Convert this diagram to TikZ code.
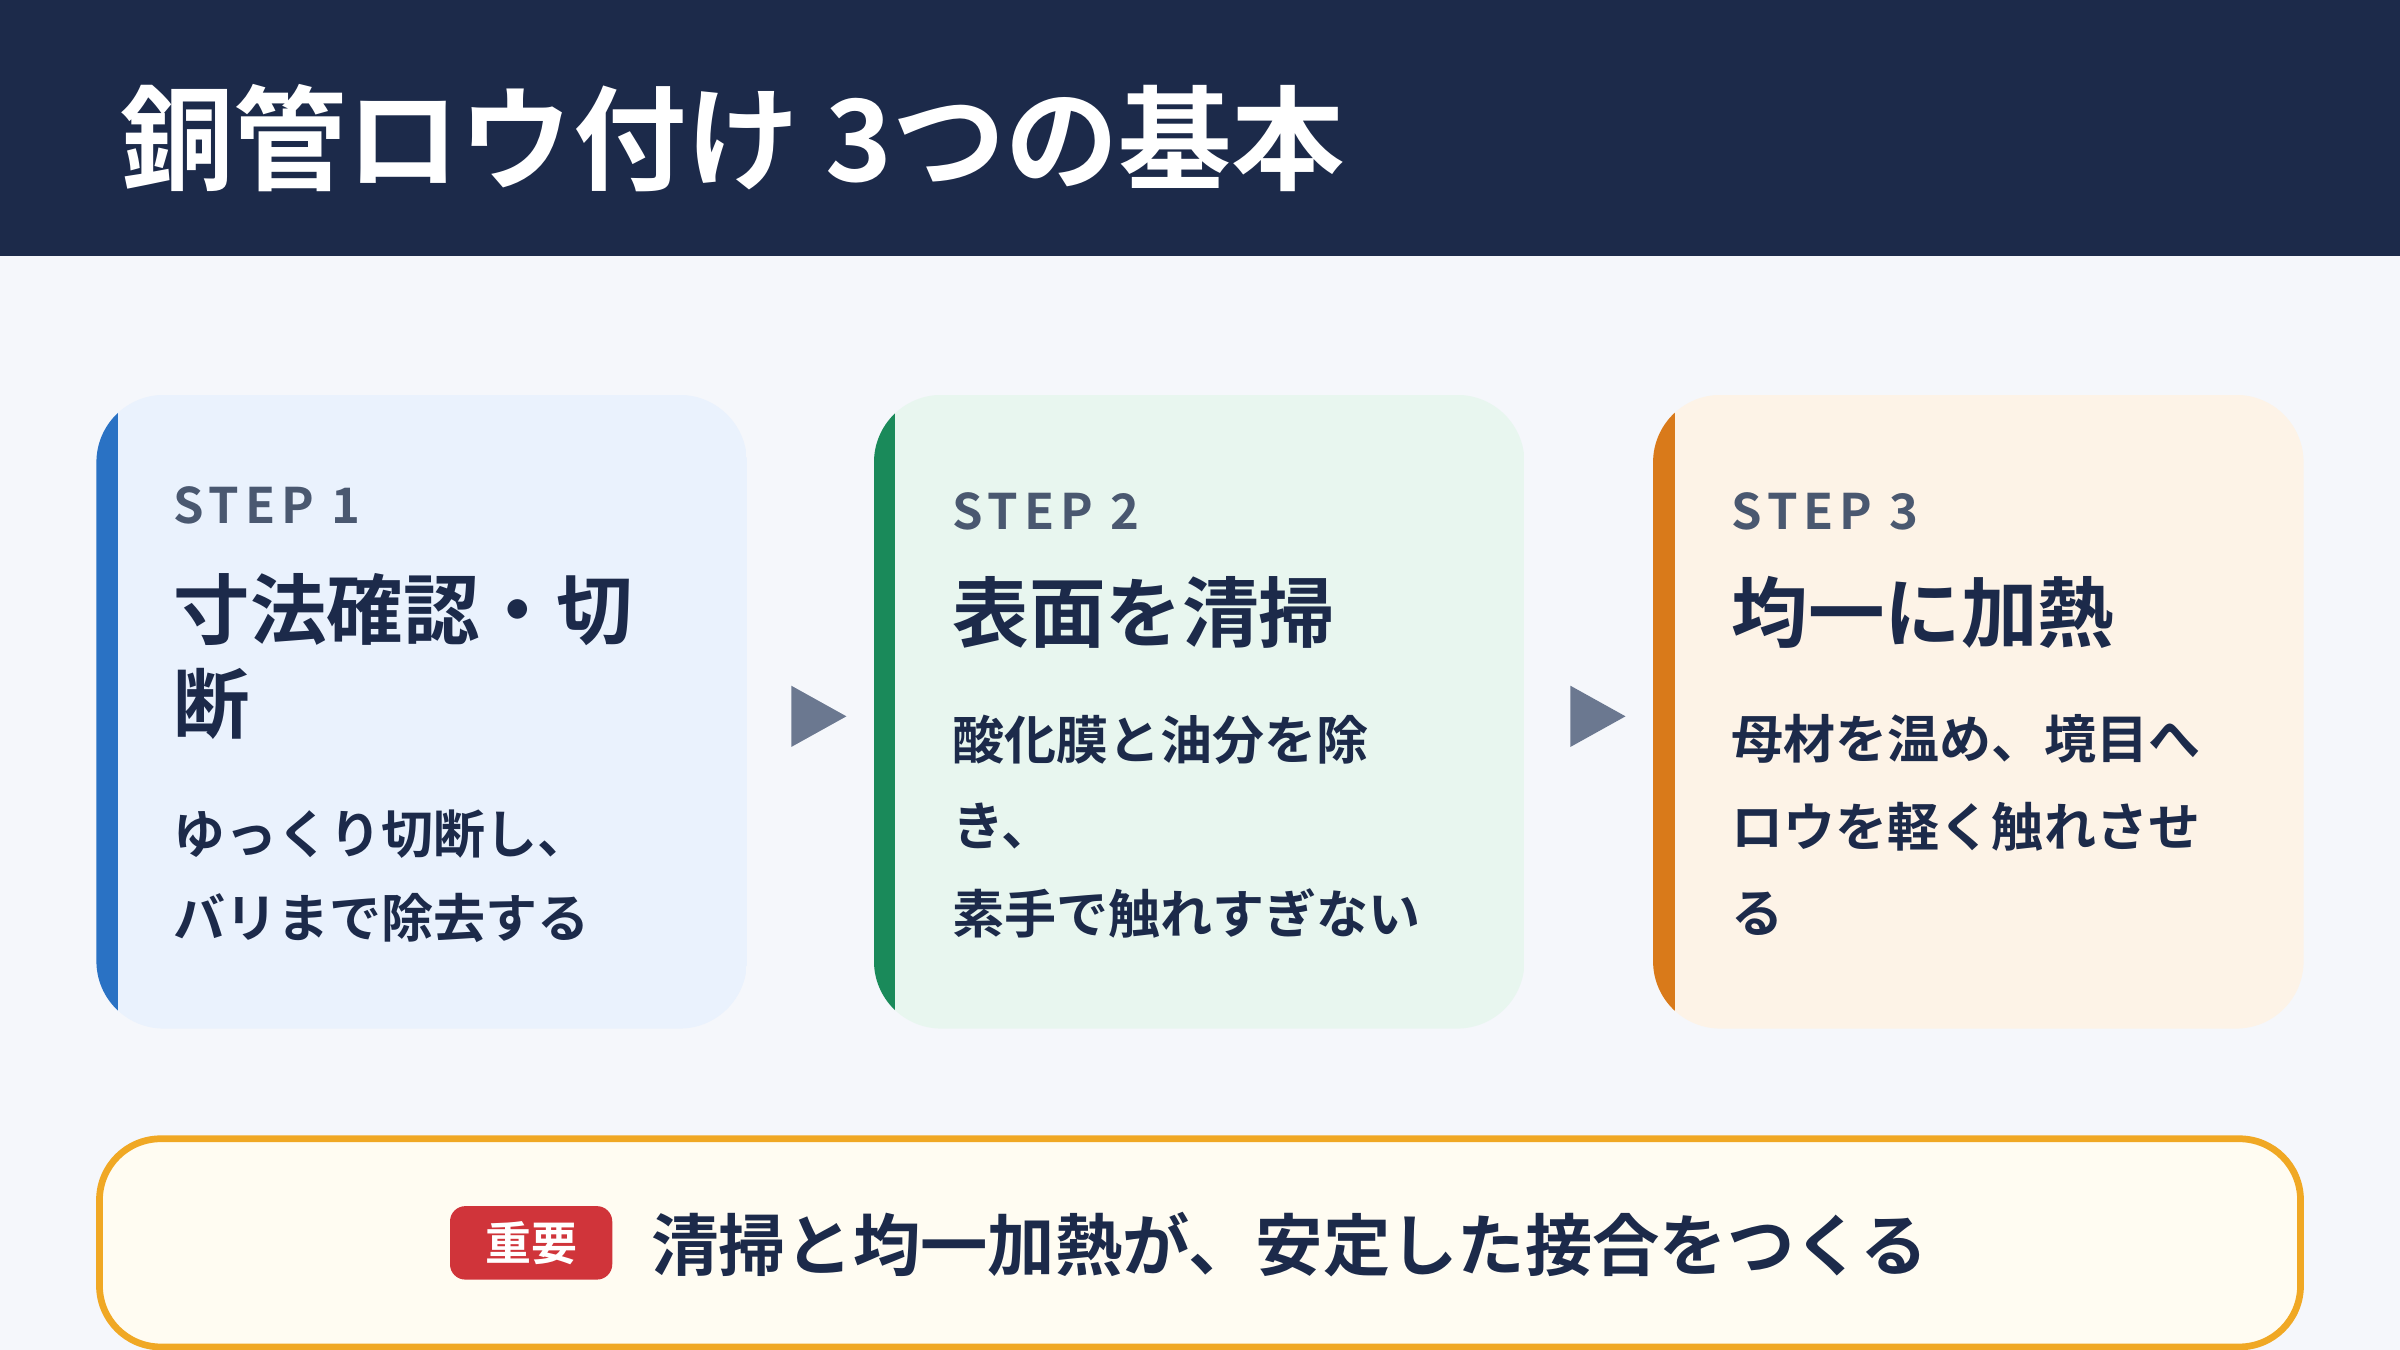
\documentclass[tikz,border=0pt]{standalone}
\usepackage{fontspec}
\setmainfont{Noto Sans CJK JP}[BoldFont={* Bold}]
\newfontfamily\stepfont{Noto Sans CJK JP}[BoldFont={* Bold},LetterSpace=12]
\definecolor{navy}{HTML}{1C2A4A}
\definecolor{bg}{HTML}{F5F7FB}
\definecolor{cblue}{HTML}{2A72C4}
\definecolor{cgreen}{HTML}{1A8A5A}
\definecolor{corange}{HTML}{D97A1A}
\definecolor{fblue}{HTML}{EAF2FD}
\definecolor{fgreen}{HTML}{E8F6EF}
\definecolor{forange}{HTML}{FDF3E7}
\definecolor{stepgray}{HTML}{4A5870}
\definecolor{arrowgray}{HTML}{6B7890}
\definecolor{gold}{HTML}{F0A824}
\definecolor{cream}{HTML}{FFFCF2}
\definecolor{badge}{HTML}{D0343A}
\begin{document}
\begin{tikzpicture}[x=0.5pt,y=-0.5pt,
  steptxt/.style={anchor=west,inner sep=0,text=stepgray,font=\stepfont\bfseries\fontsize{16pt}{16pt}\selectfont},
  ttl/.style={anchor=west,inner sep=0,text=navy,font=\bfseries\fontsize{25pt}{25pt}\selectfont},
  body/.style={anchor=west,inner sep=0,text=navy,font=\bfseries\fontsize{17pt}{17pt}\selectfont},
  arr/.style={fill=arrowgray}]
\useasboundingbox (0,0) rectangle (1568,882);
\fill[bg] (0,0) rectangle (1568,882);
\fill[navy] (0,0) rectangle (1568,167);
\node[anchor=west,inner sep=0,text=white,font=\bfseries\fontsize{37pt}{37pt}\selectfont] (title) at (78,90) {銅管ロウ付け 3つの基本};
% cards
\foreach \x/\c/\f [count=\i] in {63/cblue/fblue,571/cgreen/fgreen,1080/corange/forange}{
  \begin{scope}
    \clip[rounded corners=22] (\x,258) rectangle ++(425,414);
    \fill[\f] (\x,258) rectangle ++(425,414);
    \fill[\c] (\x,258) rectangle ++(14,414);
  \end{scope}
}
\node[steptxt] (s1) at (113,330) {STEP 1};
\node[ttl] (t1a) at (113,398) {寸法確認・切};
\node[ttl] (t1b) at (113,460) {断};
\node[body] (b1a) at (113,545) {ゆっくり切断し、};
\node[body] (b1b) at (113,600) {バリまで除去する};
\node[steptxt] (s2) at (622,334) {STEP 2};
\node[ttl] (t2) at (622,400) {表面を清掃};
\node[body] (b2a) at (622,483) {酸化膜と油分を除};
\node[body] (b2b) at (622,540) {き、};
\node[body] (b2c) at (622,597) {素手で触れすぎない};
\node[steptxt] (s3) at (1131,334) {STEP 3};
\node[ttl] (t3) at (1131,400) {均一に加熱};
\node[body] (b3a) at (1131,483) {母材を温め、境目へ};
\node[body] (b3b) at (1131,540) {ロウを軽く触れさせ};
\node[body] (b3c) at (1131,597) {る};
% arrows
\fill[arr] (517,448) -- (553,468) -- (517,488) -- cycle;
\fill[arr] (1026,448) -- (1062,468) -- (1026,488) -- cycle;
% bottom
\draw[gold,line width=2.2pt,fill=cream,rounded corners=20] (65,744) rectangle (1503,880);
\node[fill=badge,text=white,rounded corners=5,minimum width=53pt,minimum height=24pt,inner sep=0,font=\bfseries\fontsize{15pt}{15pt}\selectfont] (badge) at (347,812) {重要};
\node[anchor=west,inner sep=0,text=navy,font=\bfseries\fontsize{22pt}{22pt}\selectfont] (msg) at (425,813) {清掃と均一加熱が、安定した接合をつくる};
\end{tikzpicture}
\end{document}
